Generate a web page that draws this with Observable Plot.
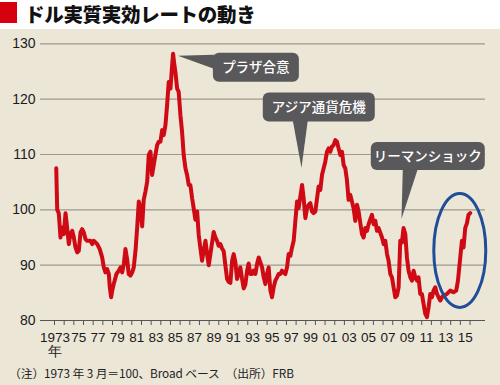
<!DOCTYPE html>
<html><head><meta charset="utf-8">
<script src="https://cdn.jsdelivr.net/npm/d3@7"></script>
<script src="https://cdn.jsdelivr.net/npm/@observablehq/plot@0.6"></script>
<style>
html,body{margin:0;padding:0;}
body{width:500px;height:385px;background:#ece6d7;position:relative;overflow:hidden;font-family:"Noto Sans CJK JP",sans-serif;}
#title{position:absolute;left:0;top:0;width:500px;height:29px;background:#fff;}
#title .sq{position:absolute;left:0;top:2px;width:17px;height:21px;background:#d7000f;}
#title .tx{position:absolute;left:25px;top:0px;font-size:19.5px;font-weight:900;line-height:28px;color:#111;letter-spacing:-0.3px;white-space:nowrap;}
#chart{position:absolute;left:0;top:29px;}
#note{position:absolute;left:9px;top:364px;font-size:11.8px;line-height:17px;color:#222;white-space:pre;letter-spacing:-0.1px;}
</style></head>
<body>
<div id="title"><div class="sq"></div><div class="tx">ドル実質実効レートの動き</div></div>
<div id="chart"></div>
<div id="note">（注）1973 年 3 月＝100、Broad ベース　（出所）FRB</div>
<script>
// decimal year and index value (1973年3月=100)
const years = [
1973.18,1973.28,1973.44,1973.62,1973.80,1973.96,1974.14,1974.31,1974.48,1974.65,1974.83,1975.00,1975.17,1975.35,1975.51,1975.69,1975.86,1976.03,1976.21,1976.38,1976.72,1976.90,1977.06,1977.42,1977.68,1977.93,1978.10,1978.27,1978.45,1978.62,1978.72,1978.86,1978.97,1979.13,1979.41,1979.65,1979.83,1980.00,1980.17,1980.34,1980.52,1980.68,1980.86,1981.04,1981.20,1981.38,1981.55,1981.72,1981.89,1982.07,1982.23,1982.41,1982.59,1982.75,1982.93,1983.10,1983.27,1983.44,1983.62,1983.79,
1983.96,1984.14,1984.30,1984.48,1984.65,1984.82,1985.00,1985.17,1985.27,1985.41,1985.51,1985.69,1985.85,1986.03,1986.20,1986.37,1986.55,1986.72,1986.89,1987.06,1987.24,1987.40,1987.58,1987.76,1987.92,1988.10,1988.27,1988.44,1988.62,1988.79,1988.96,1989.13,1989.47,1989.65,1989.82,1989.99,1990.17,1990.34,1990.51,1990.68,1990.86,1991.02,1991.20,1991.38,1991.54,1991.72,1991.89,1992.06,1992.23,1992.41,1992.58,1992.75,1992.93,1993.09,1993.27,1993.44,1993.61,1993.79,1993.96,1994.13,1994.30,1994.48,1994.65,1994.82,1994.99,1995.16,1995.34,1995.51,1995.68,1995.85,1996.03,1996.19,1996.37,1996.54,1996.71,1996.89,
1997.06,1997.23,1997.41,1997.58,1997.75,1997.92,1998.10,1998.26,1998.44,1998.62,1998.78,1998.96,1999.13,1999.30,1999.47,1999.65,1999.81,1999.99,2000.17,2000.33,2000.51,2000.68,2000.85,2001.02,2001.20,2001.37,2001.54,2001.71,2001.88,2002.06,2002.23,2002.40,2002.58,2002.75,2002.92,2003.09,2003.26,2003.43,2003.61,2003.95,2004.13,2004.30,2004.47,2004.82,2004.99,2005.16,2005.34,2005.50,2005.85,2006.02,2006.20,2006.37,2006.54,2006.89,2007.06,2007.23,2007.41,2007.57,2007.75,2007.92,2008.09,2008.26,2008.44,2008.61,2008.78,2008.95,2009.12,2009.30,2009.47,2009.64,2009.82,2009.99,2010.16,2010.33,2010.51,2010.67,2010.85,2011.02,2011.19,2011.37,2011.54,2011.71,2011.88,2012.06,2012.22,2012.40,2012.58,2012.74,2012.92,2013.09,2013.26,2013.61,2013.95,2014.29,2014.57,2014.75,2014.99,2015.16,2015.33,2015.50,2015.68,2015.84,2016.02];
const values = [
107.5,100.0,99.4,95.0,96.8,95.6,99.4,96.7,93.8,95.6,96.2,95.0,93.2,92.3,92.6,95.9,96.5,95.9,94.7,94.4,94.4,93.8,94.4,93.8,92.9,91.4,89.6,88.7,89.3,88.4,86.0,84.2,85.4,86.6,88.4,89.0,89.6,88.7,90.2,92.9,91.0,88.4,88.1,88.7,89.6,92.6,96.7,101.5,100.3,97.0,101.8,103.3,105.1,109.9,110.5,106.3,108.1,109.9,111.7,112.3,
112.3,114.4,113.5,115.3,118.9,123.1,121.9,126.1,128.2,126.1,124.9,121.9,121.3,117.1,114.1,109.9,107.5,106.3,104.5,104.5,102.1,100.3,98.2,99.7,95.5,93.0,90.8,92.6,94.4,92.0,90.0,92.0,96.0,95.0,94.4,93.5,93.8,93.0,92.5,90.0,87.5,87.0,86.8,90.8,92.0,90.5,87.5,88.5,89.6,87.5,85.8,86.5,89.0,90.3,88.4,88.4,89.0,88.4,90.2,91.4,90.5,89.6,87.8,86.6,88.4,89.6,85.4,84.2,86.0,87.2,87.8,88.4,88.4,89.0,88.7,88.4,
89.6,92.0,91.7,93.2,94.4,97.9,101.5,100.3,102.4,104.5,102.1,98.5,100.3,100.9,101.2,99.7,99.4,99.7,102.1,104.2,103.6,106.3,107.5,108.7,110.5,111.1,110.5,111.4,111.7,112.6,112.3,111.1,109.9,110.5,108.1,107.5,105.4,101.8,102.7,100.3,98.0,100.9,99.7,95.6,95.0,96.7,96.2,97.4,99.1,97.4,98.0,96.2,96.7,95.0,93.8,94.4,92.0,90.8,88.4,87.8,86.0,84.2,84.5,86.0,94.4,94.1,96.7,95.6,91.4,89.0,87.8,87.2,89.0,87.8,87.2,87.8,84.8,84.8,83.0,81.2,80.6,82.4,84.8,84.2,85.4,86.0,84.8,84.2,83.6,84.2,84.5,84.8,85.4,85.1,85.4,87.2,91.4,94.4,93.2,96.7,97.6,99.1,99.4];
const yTicks = [80, 90, 100, 110, 120, 130];
const tickYears = d3.range(1973, 2017);
const labelYears = d3.range(1973, 2016, 2);
const events = ["プラザ合意", "アジア通貨危機", "リーマンショック"];
const eventTipYear = [1985.82, 1998.61, 2008.96];
const eventTipValue = [127.76, 107.52, 98.31];

const data = years.map((t, i) => ({t, v: values[i]}));

// annotation layout (box centre in data space, pointer base offsets in px)
const ann = [
  {label: events[0], tx: eventTipYear[0], ty: eventTipValue[0], bx: 1993.89, by: 125.69, w: 86, h: 29, side: "left", b: [2, 16]},
  {label: events[1], tx: eventTipYear[1], ty: eventTipValue[1], bx: 2000.40, by: 118.51, w: 112, h: 29, side: "bottom", b: [-26, -11]},
  {label: events[2], tx: eventTipYear[2], ty: eventTipValue[2], bx: 2011.68, by: 109.62, w: 114, h: 28, side: "bottom", b: [-25, -10]}
];
const ellipse = {cx: 2014.99, cy: 92.57, rx: 26, ry: 57};

function annotations(index, scales) {
  const g = d3.create("svg:g");
  const {x, y} = scales;
  for (const a of ann) {
    const cx = x(a.bx), cy = y(a.by);
    const left = cx - a.w / 2, top = cy - a.h / 2;
    const tx = x(a.tx), ty = y(a.ty);
    let pts;
    if (a.side === "left") pts = [[left + 1, top + a.b[0]], [left + 1, top + a.b[1]], [tx, ty]];
    else pts = [[cx + a.b[0], top + a.h - 1], [cx + a.b[1], top + a.h - 1], [tx, ty]];
    g.append("path").attr("d", "M" + pts.map(p => p.join(",")).join("L") + "Z").attr("fill", "#59595b");
    g.append("rect").attr("x", left).attr("y", top).attr("width", a.w).attr("height", a.h)
      .attr("rx", 6).attr("fill", "#59595b");
    g.append("text").attr("x", cx).attr("y", cy).attr("dy", "0.36em").attr("text-anchor", "middle")
      .attr("fill", "#fff").attr("font-family", "'Noto Sans CJK JP', sans-serif").attr("font-size", 13.5)
      .attr("font-weight", 500).text(a.label);
  }
  g.append("ellipse").attr("cx", x(ellipse.cx)).attr("cy", y(ellipse.cy)).attr("rx", ellipse.rx).attr("ry", ellipse.ry)
    .attr("fill", "none").attr("stroke", "#1f4d98").attr("stroke-width", 3);
  return g.node();
}

const plot = Plot.plot({
  width: 500, height: 328,
  marginLeft: 40, marginRight: 15, marginTop: 14.3, marginBottom: 37,
  style: {background: "transparent", fontFamily: "'Liberation Sans', Arial, sans-serif", fontSize: "14px", color: "#1a1a1a", overflow: "visible"},
  x: {domain: [1971.55, 2017.6]},
  y: {domain: [80, 130]},
  marks: [
    Plot.gridY(yTicks.filter(d => d > 80), {stroke: "#9e998c", strokeOpacity: 1, strokeWidth: 1.2}),
    Plot.axisY({ticks: yTicks, tickSize: 0, tickPadding: 5, fontSize: 14, letterSpacing: "-0.3px", label: null}),
    Plot.ruleY([80], {stroke: "#555", strokeWidth: 1.2}),
    Plot.axisX({ticks: tickYears, tickSize: 5, tickFormat: () => "", stroke: "#555", label: null}),
    Plot.axisX({ticks: labelYears.map(d => d === 1973 ? 1973.05 : d + 0.5), tickSize: 0, tickPadding: 12, fontSize: 13.5, letterSpacing: "-0.6px", label: null,
      tickFormat: d => { const yr = Math.floor(d); return yr === 1973 ? "1973\n年" : String(yr % 100).padStart(2, "0"); }}),
    Plot.line(data, {x: "t", y: "v", stroke: "#cf0a14", strokeWidth: 4, strokeLinejoin: "round", strokeLinecap: "round", curve: "linear"}),
    annotations
  ]
});
document.getElementById("chart").appendChild(plot);
</script>
</body></html>
